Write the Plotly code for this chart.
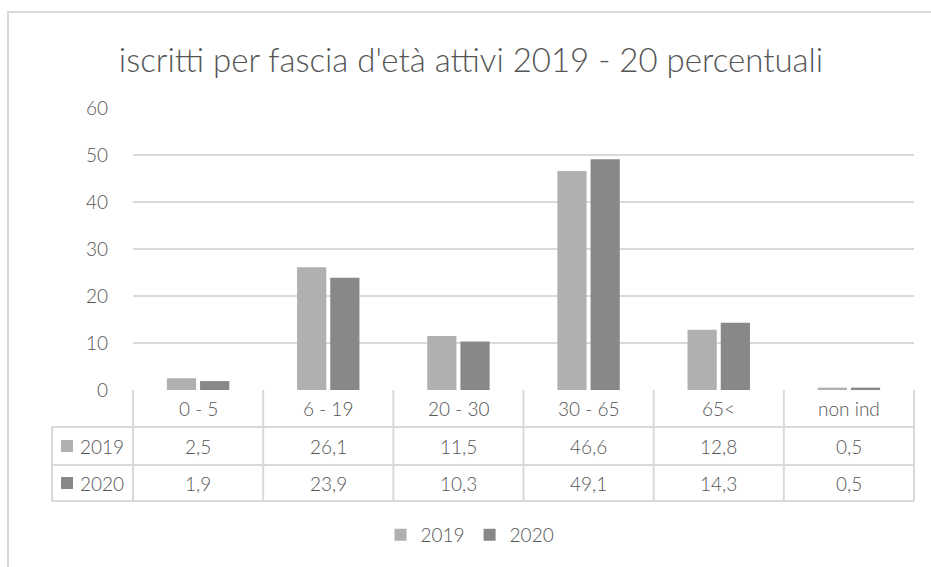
import plotly.graph_objects as go

# ---- data ----
categories = ["0 - 5", "6 - 19", "20 - 30", "30 - 65", "65<", "non ind"]
series_names = ["2019", "2020"]
values_2019 = [2.5, 26.1, 11.5, 46.6, 12.8, 0.5]
values_2020 = [1.9, 23.9, 10.3, 49.1, 14.3, 0.5]
y_ticks = [0, 10, 20, 30, 40, 50, 60]
title_text = "iscritti per fascia d'età attivi 2019 - 20 percentuali"

# ---- style ----
W, H = 931, 567
FONT = "Lato"
WEIGHT = 300
TXT = "#555555"
GRID = "#d9d9d9"
colors = {"2019": "#b0b0b0", "2020": "#888888"}

def px(x):
    return x / W

def py(y):
    return 1 - y / H

def fnt(size):
    return dict(family=FONT, size=size, color=TXT, weight=WEIGHT)

# plot area in pixels
X0, X1 = 133, 914
Y0, Y60 = 390, 108
# table rows (pixels)
ROW_HDR_TOP, ROW1_TOP, ROW2_TOP, ROW_BOT = 390, 427, 465, 501
LBL_LEFT = 52

fig = go.Figure()
for name, vals in zip(series_names, [values_2019, values_2020]):
    fig.add_trace(go.Bar(x=categories, y=vals, name=name,
                         marker=dict(color=colors[name], line=dict(width=0)),
                         hoverinfo="x+y+name"))

shapes = []
annotations = []

def hline(y, xa, xb):
    shapes.append(dict(type="line", xref="paper", yref="paper",
                       x0=px(xa), x1=px(xb), y0=py(y), y1=py(y),
                       line=dict(color=GRID, width=2)))

def vline(x, ya, yb):
    shapes.append(dict(type="line", xref="paper", yref="paper",
                       x0=px(x), x1=px(x), y0=py(ya), y1=py(yb),
                       line=dict(color=GRID, width=2)))

# outer chart border
hline(12, 7, W + 5)
vline(8, 11, H + 5)

# table grid
n = len(categories)
colw = (X1 - X0) / n
for k in range(n + 1):
    vline(X0 + k * colw, ROW_HDR_TOP, ROW_BOT)
vline(LBL_LEFT, ROW1_TOP, ROW_BOT)
for y in (ROW1_TOP, ROW2_TOP, ROW_BOT):
    hline(y, LBL_LEFT, X1)

# header labels
for i, c in enumerate(categories):
    cx = X0 + (i + 0.5) * colw
    annotations.append(dict(xref="paper", yref="paper", x=px(cx),
                            y=py((ROW_HDR_TOP + ROW1_TOP) / 2), text=c,
                            showarrow=False, xanchor="center", yanchor="middle",
                            font=fnt(19)))

# value rows
row_bounds = [(ROW1_TOP, ROW2_TOP), (ROW2_TOP, ROW_BOT)]
for (ya, yb), name, vals in zip(row_bounds, series_names, [values_2019, values_2020]):
    cy = (ya + yb) / 2
    for i, v in enumerate(vals):
        cx = X0 + (i + 0.5) * colw
        annotations.append(dict(xref="paper", yref="paper", x=px(cx), y=py(cy),
                                text=f"{v:.1f}".replace(".", ","),
                                showarrow=False, xanchor="center", yanchor="middle",
                                font=fnt(19)))
    # legend key square + label
    shapes.append(dict(type="rect", xref="paper", yref="paper",
                       x0=px(61), x1=px(73), y0=py(cy - 6), y1=py(cy + 6),
                       fillcolor=colors[name], line=dict(width=0)))
    annotations.append(dict(xref="paper", yref="paper", x=px(78), y=py(cy),
                            text=name, showarrow=False, xanchor="left",
                            yanchor="middle", font=fnt(19)))

fig.update_layout(
    width=W, height=H,
    margin=dict(l=0, r=0, t=0, b=0, autoexpand=False),
    paper_bgcolor="white", plot_bgcolor="white",
    barmode="group", bargap=0.49, bargroupgap=0.12,
    title=dict(text=title_text, x=px(471), xanchor="center",
               y=py(60), yanchor="middle", font=fnt(33)),
    xaxis=dict(domain=[px(X0), px(X1)], showticklabels=False, automargin=False,
               showgrid=False, zeroline=False, showline=False, ticks=""),
    yaxis=dict(domain=[py(Y0), py(Y60)], range=[0, 60], tickvals=y_ticks,
               automargin=False,
               showgrid=True, gridcolor=GRID, gridwidth=2,
               zeroline=False, showline=False, ticks="",
               ticklabelstandoff=24, tickfont=fnt(19)),
    legend=dict(orientation="h", x=px(470), xanchor="center",
                y=py(535), yanchor="middle", font=fnt(19),
                itemwidth=30, traceorder="normal"),
    shapes=shapes,
    annotations=annotations,
    font=dict(family=FONT, color=TXT),
)

fig.write_html("out.html", config={"displayModeBar": False},
               post_script="document.body.style.margin='0';document.body.style.overflow='hidden';")
